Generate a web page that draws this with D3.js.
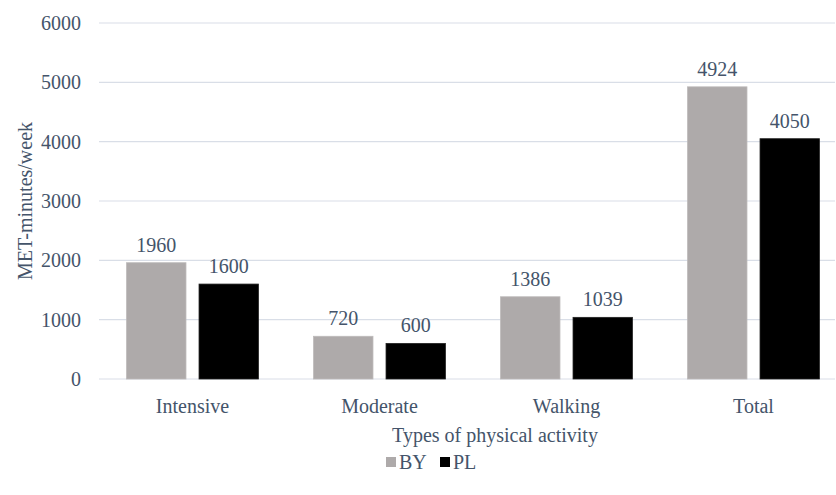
<!DOCTYPE html>
<html>
<head>
<meta charset="utf-8">
<script src="https://cdn.jsdelivr.net/npm/d3@7"></script>
<style>
  body { margin: 0; background: #fff; }
</style>
</head>
<body>
<div id="chart"></div>
<script>
// Data
const categories = ['Intensive', 'Moderate', 'Walking', 'Total'];
const seriesNames = ['BY', 'PL'];
const byValues = [1960, 720, 1386, 4924];
const plValues = [1600, 600, 1039, 4050];
const yTicks = [0, 1000, 2000, 3000, 4000, 5000, 6000];
const colors = { BY: '#aeaaaa', PL: '#000000' };

const width = 836, height = 495;
const plot = { left: 99, right: 847, top: 23, bottom: 379 };
const textColor = '#44546a';

const rows = categories.map((c, i) => ({ category: c, BY: byValues[i], PL: plValues[i] }));

// Scales
const xScale = d3.scaleBand(categories, [plot.left, plot.right]).paddingInner(0).paddingOuter(0);
const xInner = d3.scaleBand(seriesNames, [0, xScale.bandwidth()]).paddingInner(0.18).paddingOuter(0.38);
const yScale = d3.scaleLinear([0, 6000], [plot.bottom, plot.top]);

const svg = d3.select('#chart').append('svg')
    .attr('width', width)
    .attr('height', height)
    .attr('font-family', "'Liberation Serif', 'DejaVu Serif', serif")
    .attr('fill', textColor);

// Gridlines
svg.append('g').selectAll('line').data(yTicks)
    .join('line')
    .attr('x1', plot.left)
    .attr('x2', 835)
    .attr('y1', d => yScale(d))
    .attr('y2', d => yScale(d))
    .attr('stroke', '#d9dee7')
    .attr('stroke-width', 1.2);

// Y tick labels
svg.append('g').selectAll('text').data(yTicks)
    .join('text')
    .attr('x', 81)
    .attr('y', d => yScale(d))
    .attr('dy', '0.35em')
    .attr('text-anchor', 'end')
    .attr('font-size', 20)
    .attr('fill', textColor)
    .text(d => d);

// Bars
const groups = svg.append('g').selectAll('g').data(rows)
    .join('g')
    .attr('transform', d => `translate(${xScale(d.category)}, 0)`);

groups.selectAll('rect').data(d => seriesNames.map(s => ({ key: s, value: d[s] })))
    .join('rect')
    .attr('x', d => xInner(d.key))
    .attr('width', xInner.bandwidth())
    .attr('y', d => yScale(d.value))
    .attr('height', d => yScale(0) - yScale(d.value))
    .attr('fill', d => colors[d.key])
    .attr('stroke', d => d.key === 'BY' ? '#bdbaba' : '#222')
    .attr('stroke-width', 0.8);

// Value labels
groups.selectAll('text').data(d => seriesNames.map(s => ({ key: s, value: d[s] })))
    .join('text')
    .attr('x', d => xInner(d.key) + xInner.bandwidth() / 2)
    .attr('y', d => yScale(d.value) - 11)
    .attr('text-anchor', 'middle')
    .attr('font-size', 20)
    .attr('fill', textColor)
    .text(d => d.value);

// X category labels
svg.append('g').selectAll('text').data(categories)
    .join('text')
    .attr('x', d => xScale(d) + xScale.bandwidth() / 2)
    .attr('y', 413)
    .attr('text-anchor', 'middle')
    .attr('font-size', 20)
    .attr('fill', textColor)
    .text(d => d);

// Axis titles
svg.append('text')
    .attr('x', 495)
    .attr('y', 442)
    .attr('text-anchor', 'middle')
    .attr('font-size', 20)
    .attr('fill', textColor)
    .text('Types of physical activity');

svg.append('text')
    .attr('transform', `translate(32, ${(plot.top + plot.bottom) / 2}) rotate(-90)`)
    .attr('text-anchor', 'middle')
    .attr('font-size', 20)
    .attr('fill', textColor)
    .text('MET-minutes/week');

// Legend
const legendItems = [{ key: 'BY', x: 386 }, { key: 'PL', x: 440 }];
const legend = svg.append('g').selectAll('g').data(legendItems)
    .join('g')
    .attr('transform', d => `translate(${d.x}, 462)`);
legend.append('rect')
    .attr('x', 0)
    .attr('y', -5)
    .attr('width', 10)
    .attr('height', 10)
    .attr('fill', d => colors[d.key]);
legend.append('text')
    .attr('x', 13)
    .attr('dy', '0.35em')
    .attr('font-size', 20)
    .attr('fill', textColor)
    .text(d => d.key);
</script>
</body>
</html>
